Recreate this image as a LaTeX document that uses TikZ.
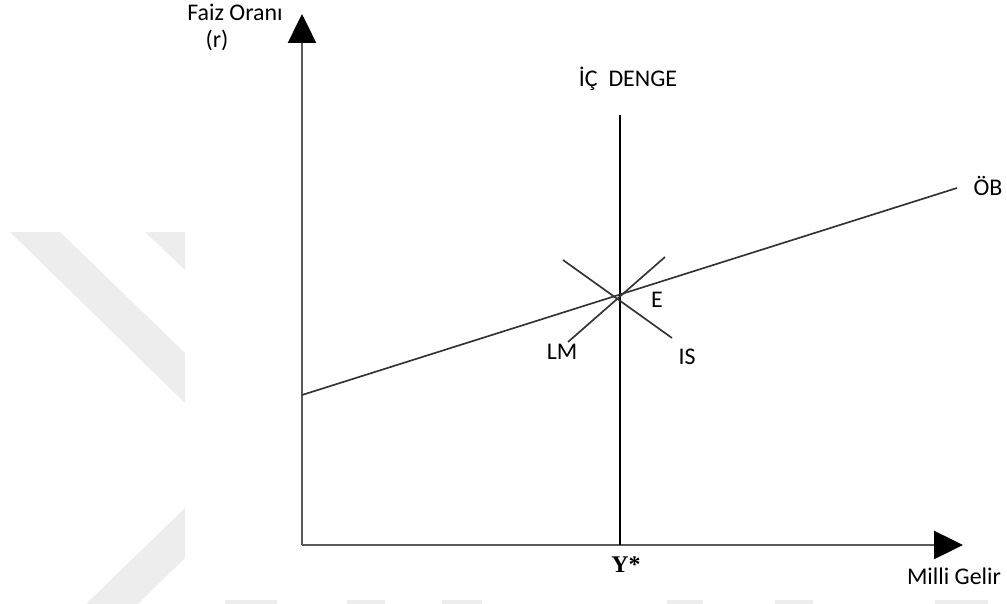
\documentclass[tikz,border=0pt]{standalone}
\usepackage{fontspec}
\setmainfont{Carlito}
\newfontfamily\ystarfont{Liberation Serif}
\usetikzlibrary{arrows.meta}
\tikzset{
  lbl/.style={inner sep=0pt, font=\fontsize{13.6}{16}\selectfont, text=black},
  axisline/.style={line width=1.4pt, draw=black!65, -{Triangle[length=0.58cm,width=0.56cm,black]}},
  curve/.style={line width=0.95pt, draw=black!80},
  wmark/.style={fill=black!7, draw=none}
}
\begin{document}
\begin{tikzpicture}[x=0.02cm,y=-0.02cm]
\useasboundingbox (0,0) rectangle (1007,604);
% watermark in the background
\fill[wmark] (10,232) -- (60,232) -- (185,353) -- (185,403) -- cycle;
\fill[wmark] (145,232) -- (185,232) -- (185,270) -- cycle;
\fill[wmark] (86,604) -- (138,604) -- (185,558) -- (185,508) -- cycle;
\foreach \xa/\xb in {225/277,347/385,442/482,667/703,775/813,935/988}
  \fill[wmark] (\xa,600) rectangle (\xb,604);
% axes
\coordinate (O) at (302,545);
\coordinate (ytop) at (302,14);
\coordinate (xend) at (963,545);
\draw[axisline] (O) -- (ytop);
\draw[axisline] (O) -- (xend);
% internal balance
\coordinate (icTop) at (620,115);
\coordinate (ystar) at (620,545);
\draw[line width=1.6pt] (icTop) -- (ystar);
% external balance, IS and LM
\coordinate (ob1) at (302,395);
\coordinate (ob2) at (957,188);
\draw[curve] (ob1) -- (ob2);
\coordinate (is1) at (563,260);
\coordinate (is2) at (672,338);
\draw[curve] (is1) -- (is2);
\coordinate (lm1) at (568,342);
\coordinate (lm2) at (665,257);
\draw[curve] (lm1) -- (lm2);
% labels
\node[lbl] (faiz) at (235,12) {Faiz Oranı};
\node[lbl] (rlbl) at (217,40) {(r)};
\node[lbl] (icd) at (628,79) {İÇ~~DENGE};
\node[lbl] (ob) at (988,186) {ÖB};
\node[lbl] (E) at (657,300) {E};
\node[lbl] (LM) at (562,352) {LM};
\node[lbl] (IS) at (687,357) {IS};
\node[lbl, font=\ystarfont\bfseries\fontsize{13.6}{16}\selectfont] (Y) at (626,565) {Y*};
\node[lbl] (gelir) at (954,576) {Milli Gelir};
\end{tikzpicture}
\end{document}
